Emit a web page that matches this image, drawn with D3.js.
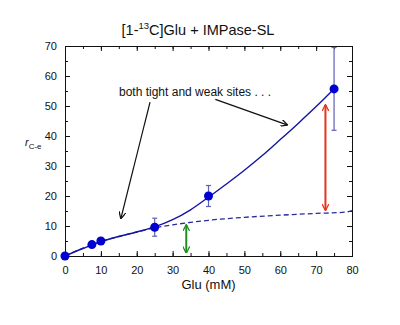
<!DOCTYPE html>
<html>
<head>
<meta charset="utf-8">
<script src="https://cdn.jsdelivr.net/npm/d3@7"></script>
<style>
  body { margin: 0; background: #fff; }
  svg { font-family: "Liberation Sans", Arial, sans-serif; }
</style>
</head>
<body>
<svg id="chart" width="400" height="325"></svg>
<script>
// measured points
var glu = [0, 7.5, 10, 25, 40, 75];
var rce = [0, 3.8, 5.0, 9.6, 20.0, 55.7];
var rceErr = [0, 0, 0, 3.0, 3.5, 13.8];

// fit: both tight and weak sites (solid)
var bothX = [0, 5, 10, 15, 20, 25, 30, 35, 40, 45, 50, 55, 60, 65, 70, 75];
var bothY = [0, 2.5, 4.8, 6.5, 8.0, 9.7, 12.1, 15.4, 19.6, 24.0, 28.6, 33.5, 38.8, 44.2, 49.8, 55.7];

// fit: tight sites only (dashed)
var tightX = [0, 5, 10, 15, 20, 25, 30, 35, 40, 50, 60, 70, 78, 80];
var tightY = [0, 2.6, 4.8, 6.5, 8.0, 9.4, 10.4, 11.2, 11.9, 12.9, 13.6, 14.2, 14.6, 15.1];

var xTicks = [0, 10, 20, 30, 40, 50, 60, 70, 80];
var yTicks = [0, 10, 20, 30, 40, 50, 60, 70];

var svg = d3.select("#chart");
var m = {left: 65, right: 352, top: 46, bottom: 256};

var x = d3.scaleLinear().domain([0, 80]).range([m.left, m.right]);
var y = d3.scaleLinear().domain([0, 70]).range([m.bottom, m.top]);

// title
var title = svg.append("text")
    .attr("x", 198).attr("y", 35)
    .attr("text-anchor", "middle")
    .attr("font-size", 14.5)
    .attr("fill", "#111");
title.append("tspan").text("[1-");
title.append("tspan").attr("font-size", 9.5).attr("dy", -6).text("13");
title.append("tspan").attr("dy", 6).text("C]Glu + IMPase-SL");

// axes, ticks inside on all four sides
var minorX = d3.range(0, 81, 5), minorY = d3.range(0, 71, 5);

svg.append("g").attr("transform", "translate(0," + m.bottom + ")")
    .call(d3.axisBottom(x).tickValues(minorX).tickSize(-3).tickFormat(""));
svg.append("g").attr("transform", "translate(0," + m.bottom + ")")
    .call(d3.axisBottom(x).tickValues(xTicks).tickSize(-5).tickPadding(10).tickFormat(d3.format("d")))
    .call(g => g.selectAll("text").attr("font-size", 11).attr("fill", "#111"));
svg.append("g").attr("transform", "translate(0," + m.top + ")")
    .call(d3.axisTop(x).tickValues(minorX).tickSize(-3).tickFormat(""));
svg.append("g").attr("transform", "translate(0," + m.top + ")")
    .call(d3.axisTop(x).tickValues(xTicks).tickSize(-5).tickFormat(""));

svg.append("g").attr("transform", "translate(" + m.left + ",0)")
    .call(d3.axisLeft(y).tickValues(minorY).tickSize(-3).tickFormat(""));
svg.append("g").attr("transform", "translate(" + m.left + ",0)")
    .call(d3.axisLeft(y).tickValues(yTicks).tickSize(-5).tickPadding(8).tickFormat(d3.format("d")))
    .call(g => g.selectAll("text").attr("font-size", 11).attr("fill", "#111"));
svg.append("g").attr("transform", "translate(" + m.right + ",0)")
    .call(d3.axisRight(y).tickValues(minorY).tickSize(-3).tickFormat(""));
svg.append("g").attr("transform", "translate(" + m.right + ",0)")
    .call(d3.axisRight(y).tickValues(yTicks).tickSize(-5).tickFormat(""));

svg.selectAll(".domain").attr("stroke", "#111");
svg.selectAll(".tick line").attr("stroke", "#111");

// axis labels
svg.append("text")
    .attr("x", x(40)).attr("y", 289)
    .attr("text-anchor", "middle")
    .attr("font-size", 13)
    .attr("fill", "#111")
    .text("Glu (mM)");

var ylab = svg.append("text")
    .attr("x", 25).attr("y", 146)
    .attr("font-size", 11)
    .attr("fill", "#111");
ylab.append("tspan").attr("font-style", "italic").text("r");
ylab.append("tspan").attr("font-size", 8).attr("dy", 3).text("C-e");

// arrow markers
var defs = svg.append("defs");
function marker(id, color) {
    defs.append("marker")
        .attr("id", id)
        .attr("viewBox", "0 0 10 10")
        .attr("refX", 9).attr("refY", 5)
        .attr("markerWidth", 7).attr("markerHeight", 7)
        .attr("markerUnits", "userSpaceOnUse")
        .attr("orient", "auto-start-reverse")
        .append("path")
        .attr("d", "M0,0 L10,5 L0,10")
        .attr("fill", "none")
        .attr("stroke", color)
        .attr("stroke-width", 1.8);
}
marker("arrBlack", "#111");
marker("arrRed", "#e8321e");
marker("arrGreen", "#1f8f1f");

// fit lines
var line = d3.line()
    .x(d => x(d[0]))
    .y(d => y(d[1]))
    .curve(d3.curveMonotoneX);

svg.append("path")
    .datum(tightX.map((v, i) => [v, tightY[i]]))
    .attr("d", line)
    .attr("fill", "none")
    .attr("stroke", "#2a2aa0")
    .attr("stroke-width", 1.3)
    .attr("stroke-dasharray", "5,3");

svg.append("path")
    .datum(bothX.map((v, i) => [v, bothY[i]]))
    .attr("d", line)
    .attr("fill", "none")
    .attr("stroke", "#1414a0")
    .attr("stroke-width", 1.4);

// error bars
var pts = glu.map((v, i) => ({x: v, y: rce[i], e: rceErr[i]}));
var eb = svg.append("g").selectAll("g")
    .data(pts.filter(d => d.e > 0))
    .enter().append("g")
    .attr("stroke", "#5f5fb5")
    .attr("stroke-width", 1.2);
eb.append("line")
    .attr("x1", d => x(d.x)).attr("x2", d => x(d.x))
    .attr("y1", d => y(d.y - d.e)).attr("y2", d => y(d.y + d.e));
eb.append("line")
    .attr("x1", d => x(d.x) - 2.5).attr("x2", d => x(d.x) + 2.5)
    .attr("y1", d => y(d.y - d.e)).attr("y2", d => y(d.y - d.e));
eb.append("line")
    .attr("x1", d => x(d.x) - 2.5).attr("x2", d => x(d.x) + 2.5)
    .attr("y1", d => y(d.y + d.e)).attr("y2", d => y(d.y + d.e));

// points
svg.append("g").selectAll("circle")
    .data(pts)
    .enter().append("circle")
    .attr("cx", d => x(d.x))
    .attr("cy", d => y(d.y))
    .attr("r", 4.5)
    .attr("fill", "#0000d0");

// annotation
svg.append("text")
    .attr("x", 119).attr("y", 96)
    .attr("font-size", 12)
    .attr("fill", "#111")
    .text("both tight and weak sites . . .");

var calls = [
    {from: [23.7, 51.3], to: [15.6, 12.6]},
    {from: [41.9, 52.2], to: [61.9, 43.7]}
];
svg.append("g").selectAll("line")
    .data(calls)
    .enter().append("line")
    .attr("x1", d => x(d.from[0])).attr("y1", d => y(d.from[1]))
    .attr("x2", d => x(d.to[0])).attr("y2", d => y(d.to[1]))
    .attr("stroke", "#111")
    .attr("stroke-width", 1.2)
    .attr("marker-end", "url(#arrBlack)");

// difference arrows
var gaps = [
    {x: 33.8, y0: 1.1, y1: 10.3, id: "arrGreen", color: "#1f8f1f"},
    {x: 72.6, y0: 15.3, y1: 50.3, id: "arrRed", color: "#e8321e"}
];
svg.append("g").selectAll("line")
    .data(gaps)
    .enter().append("line")
    .attr("x1", d => x(d.x)).attr("x2", d => x(d.x))
    .attr("y1", d => y(d.y0)).attr("y2", d => y(d.y1))
    .attr("stroke", d => d.color)
    .attr("stroke-width", 2)
    .attr("marker-start", d => "url(#" + d.id + ")")
    .attr("marker-end", d => "url(#" + d.id + ")");
</script>
</body>
</html>
